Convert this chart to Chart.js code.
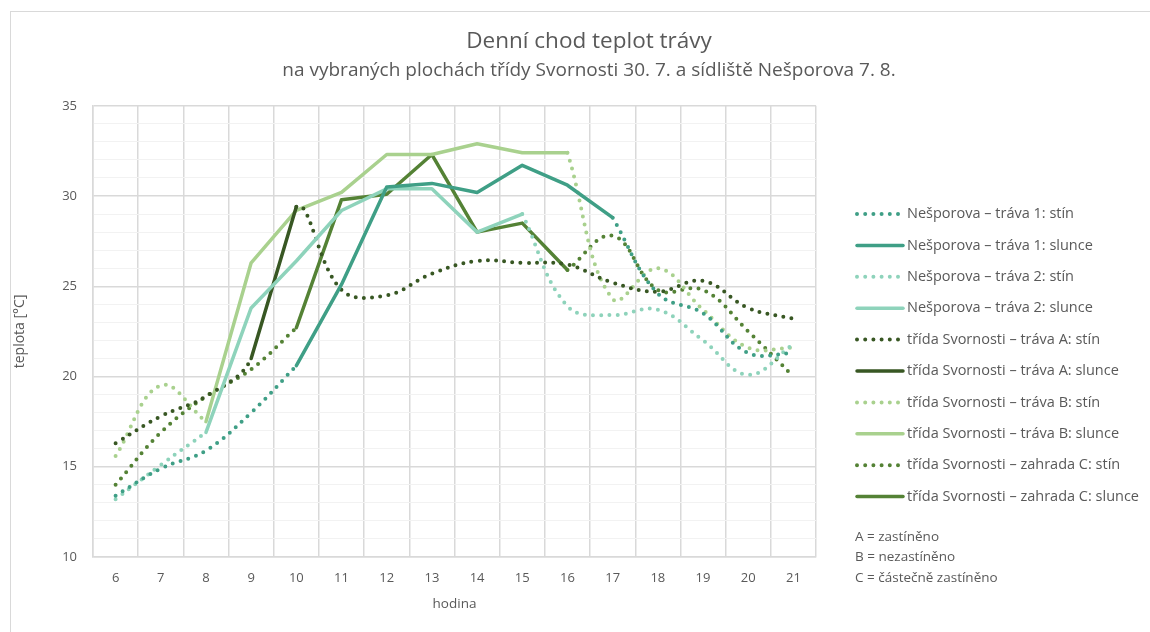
<!DOCTYPE html>
<html lang="cs">
<head>
<meta charset="utf-8">
<title>Denní chod teplot trávy</title>
<script src="https://cdn.jsdelivr.net/npm/chart.js@4.4.1/dist/chart.umd.min.js"></script>
<style>
  html, body { margin: 0; padding: 0; background: #fff; overflow: hidden; }
  .frame { position: absolute; left: 10px; top: 11px; width: 1156px; height: 640px; border: 1px solid #d9d9d9; }
  canvas { display: block; }
</style>
</head>
<body>
<div class="frame"><canvas id="chart" width="1156" height="640"></canvas></div>
<script>
// hours of the day (x axis)
const hours = ['6', '7', '8', '9', '10', '11', '12', '13', '14', '15', '16', '17', '18', '19', '20', '21'];

// grass temperature [°C]; "stín" = shaded part of the day, "slunce" = sunlit part
const nesp1Shade = [13.4, 14.9, 15.9, 18.0, 20.6, null, null, null, null, null, null, 28.8, 24.6, 23.5, 21.3, 21.3];
const nesp1Sun   = [null, null, null, null, 20.6, 25.1, 30.5, 30.7, 30.2, 31.7, 30.6, 28.8, null, null, null, null];
const nesp2Shade = [13.2, 15.1, 16.9, null, null, null, null, null, null, 29.0, 23.9, 23.4, 23.7, 22.0, 20.1, 21.8];
const nesp2Sun   = [null, null, 16.9, 23.8, 26.4, 29.2, 30.4, 30.4, 28.0, 29.0, null, null, null, null, null, null];
const svAShade   = [16.3, 17.8, 18.9, 21.0, 29.4, 24.8, 24.5, 25.7, 26.4, 26.3, 26.2, 25.2, 24.7, 25.3, 23.8, 23.2];
const svASun     = [null, null, null, 21.0, 29.4, null, null, null, null, null, null, null, null, null, null, null];
const svBShade   = [15.6, 19.5, 17.5, null, null, null, null, null, null, null, 32.4, 24.3, 26.0, 23.7, 21.6, 21.6];
const svBSun     = [null, null, 17.5, 26.3, 29.2, 30.2, 32.3, 32.3, 32.9, 32.4, 32.4, null, null, null, null, null];
const svCShade   = [14.0, 16.9, 18.9, 20.4, 22.7, null, null, null, null, null, 25.9, 27.8, 24.8, 24.8, 22.5, 20.0];
const svCSun     = [null, null, null, null, 22.7, 29.8, 30.1, 32.3, 28.0, 28.5, 25.9, null, null, null, null, null];

const notes = ['A = zastíněno', 'B = nezastíněno', 'C = částečně zastíněno'];

const TEXT = '#595959';
const FONT = '"Open Sans", Lato, sans-serif';
Chart.defaults.font.family = FONT;
Chart.defaults.color = TEXT;

// dotted curve; the stretch where the sunlit series takes over is left out
function shade(label, data, sun, color) {
  return {
    label, data, borderColor: color, backgroundColor: color,
    borderWidth: 4, borderDash: [0, 8.2], borderCapStyle: 'round',
    tension: 0.4, pointRadius: 0, spanGaps: false,
    segment: {
      borderColor: c => (sun[c.p0DataIndex] != null && sun[c.p1DataIndex] != null) ? 'rgba(0,0,0,0)' : undefined
    }
  };
}

function sunny(label, data, color) {
  return {
    label, data, borderColor: color, backgroundColor: color,
    borderWidth: 3.5, borderCapStyle: 'round', borderJoinStyle: 'round',
    tension: 0, pointRadius: 0, spanGaps: false
  };
}

// legend column on the right with the A/B/C explanation under it
const sideLegend = {
  id: 'sideLegend',
  afterDraw(chart, args, opts) {
    const { ctx } = chart;
    const x0 = chart.chartArea.right + opts.gap;
    ctx.save();
    ctx.textBaseline = 'middle';
    ctx.textAlign = 'left';
    ctx.font = opts.size + 'px ' + FONT;
    chart.data.datasets.forEach((ds, i) => {
      const y = opts.top + i * opts.step;
      ctx.beginPath();
      ctx.setLineDash(ds.borderDash || []);
      ctx.lineCap = ds.borderCapStyle || 'butt';
      ctx.lineWidth = ds.borderWidth;
      ctx.strokeStyle = ds.borderColor;
      ctx.moveTo(x0 + 2, y);
      ctx.lineTo(x0 + opts.lineLen, y);
      ctx.stroke();
      ctx.setLineDash([]);
      ctx.fillStyle = TEXT;
      ctx.fillText(ds.label, x0 + opts.lineLen + 4, y);
    });
    ctx.font = opts.noteSize + 'px ' + FONT;
    notes.forEach((t, i) => ctx.fillText(t, x0, opts.noteTop + i * opts.noteStep));
    ctx.restore();
  }
};

new Chart(document.getElementById('chart'), {
  type: 'line',
  data: {
    labels: hours,
    datasets: [
      shade('Nešporova – tráva 1: stín', nesp1Shade, nesp1Sun, '#3f9f86'),
      sunny('Nešporova – tráva 1: slunce', nesp1Sun, '#3f9f86'),
      shade('Nešporova – tráva 2: stín', nesp2Shade, nesp2Sun, '#8ed3bb'),
      sunny('Nešporova – tráva 2: slunce', nesp2Sun, '#8ed3bb'),
      shade('třída Svornosti – tráva A: stín', svAShade, svASun, '#385723'),
      sunny('třída Svornosti – tráva A: slunce', svASun, '#385723'),
      shade('třída Svornosti – tráva B: stín', svBShade, svBSun, '#a9d18e'),
      sunny('třída Svornosti – tráva B: slunce', svBSun, '#a9d18e'),
      shade('třída Svornosti – zahrada C: stín', svCShade, svCSun, '#548235'),
      sunny('třída Svornosti – zahrada C: slunce', svCSun, '#548235')
    ]
  },
  options: {
    responsive: false,
    animation: false,
    events: [],
    layout: { padding: { left: 0, right: 0, top: 0, bottom: 35 } },
    plugins: {
      legend: { display: false },
      tooltip: { enabled: false },
      title: {
        display: true, text: 'Denní chod teplot trávy', color: TEXT,
        font: { size: 22.5, weight: 'normal' }, padding: { top: 16.5, bottom: 4 }
      },
      subtitle: {
        display: true, text: 'na vybraných plochách třídy Svornosti 30. 7. a sídliště Nešporova 7. 8.', color: TEXT,
        font: { size: 19, weight: 'normal' }, padding: { top: 0, bottom: 23.5 }
      },
      sideLegend: { gap: 39, top: 202, step: 31.4, lineLen: 48, size: 14.5, noteTop: 525, noteStep: 20.5, noteSize: 13.5 }
    },
    scales: {
      x: {
        offset: true,
        grid: { offset: true, color: '#d9d9d9', lineWidth: 1.5, drawTicks: false },
        border: { color: '#d9d9d9', width: 1.5 },
        ticks: { color: TEXT, font: { size: 13 }, padding: 13, maxRotation: 0, autoSkip: false },
        title: { display: true, text: 'hodina', color: TEXT, font: { size: 13.5 }, padding: { top: 0, bottom: 5 } },
        afterFit: s => { s.height = 60; }
      },
      y: {
        min: 10, max: 35,
        grid: {
          color: c => c.tick.value % 5 === 0 ? '#d9d9d9' : '#f2f2f2',
          lineWidth: c => c.tick.value % 5 === 0 ? 1.5 : 1,
          drawTicks: false
        },
        border: { color: '#d9d9d9', width: 1.5 },
        ticks: { stepSize: 1, autoSkip: false, color: TEXT, font: { size: 13 }, padding: 16, callback: v => v % 5 === 0 ? v : '' },
        title: { display: true, text: 'teplota [°C]', color: TEXT, font: { size: 14 }, padding: { top: 1, bottom: 0 } },
        afterFit: s => { s.width = 82; }
      },
      // empty axis that keeps room for the legend column
      legendSpace: {
        position: 'right', display: true,
        grid: { display: false }, border: { display: false }, ticks: { display: false },
        afterFit: s => { s.width = 351; }
      }
    }
  },
  plugins: [sideLegend]
});
</script>
</body>
</html>
